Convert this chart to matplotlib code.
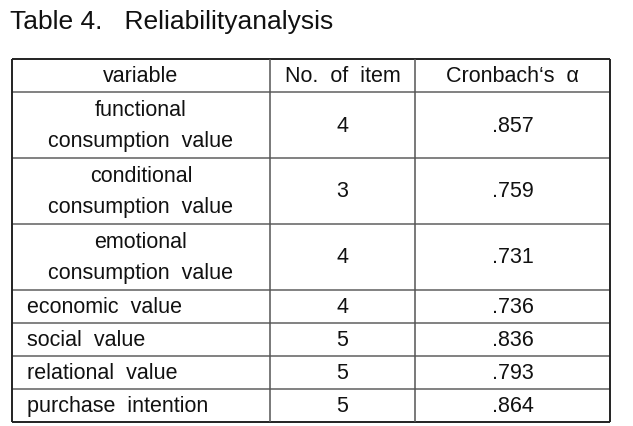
import matplotlib
matplotlib.use("Agg")
import matplotlib.pyplot as plt
from matplotlib import font_manager

# data
judul = "Table 4.   Reliabilityanalysis"
header = ["variable", "No.  of  item", "Cronbach\u2018s  \u03b1"]
variabel = [
    "functional\nconsumption  value",
    "conditional\nconsumption  value",
    "emotional\nconsumption  value",
    "economic  value",
    "social  value",
    "relational  value",
    "purchase  intention",
]
jumlah_item = [4, 3, 4, 4, 5, 5, 5]
alpha = [".857", ".759", ".731", ".736", ".836", ".793", ".864"]

# pilih font yang agak sempit kalau ada
nama_font = [f.name for f in font_manager.fontManager.ttflist]
font = "Liberation Sans Narrow" if "Liberation Sans Narrow" in nama_font else "Liberation Sans"
plt.rcParams['font.family'] = [font, 'DejaVu Sans']

W, H = 633, 427
fig = plt.figure(figsize=(W / 100, H / 100), dpi=100)
ax = fig.add_axes([0, 0, 1, 1])
ax.set_xlim(0, W)
ax.set_ylim(H, 0)
ax.axis("off")

# tata letak (piksel)
kiri, kanan = 12, 610
kolom = [kiri, 270, 415, kanan]
atas = 60
tinggi_baris = 33
tinggi = [tinggi_baris] + [tinggi_baris * (2 if "\n" in v else 1) for v in variabel]
batas = [atas]
for t in tinggi:
    batas.append(batas[-1] + t)

ukuran = 15.5
ax.text(kiri - 2, 22, judul, fontsize=19, va="center", ha="left", color="#111")

# garis
for i, y in enumerate(batas):
    luar = i == 0 or i == len(batas) - 1
    ax.plot([kiri, kanan], [y, y], color="#222" if luar else "#777",
            lw=1.4 if luar else 1.3, solid_capstyle="butt")
for j, x in enumerate(kolom):
    luar = j == 0 or j == len(kolom) - 1
    ax.plot([x, x], [batas[0], batas[-1]], color="#222" if luar else "#555",
            lw=1.4 if luar else 1.1, solid_capstyle="butt")

# header
tengah = [(kolom[k] + kolom[k + 1]) / 2 for k in range(3)]
yc = (batas[0] + batas[1]) / 2
for k, h in enumerate(header):
    ax.text(tengah[k], yc, h, fontsize=ukuran, ha="center", va="center", color="#111")

# isi
for i, v in enumerate(variabel):
    yc = (batas[i + 1] + batas[i + 2]) / 2
    if "\n" in v:
        ax.text(tengah[0], yc, v, fontsize=ukuran, ha="center", va="center",
                linespacing=1.6, color="#111")
    else:
        ax.text(kiri + 15, yc, v, fontsize=ukuran, ha="left", va="center", color="#111")
    ax.text(tengah[1], yc, str(jumlah_item[i]), fontsize=ukuran, ha="center", va="center", color="#111")
    ax.text(tengah[2], yc, alpha[i], fontsize=ukuran, ha="center", va="center", color="#111")

fig.savefig("out.png", dpi=100)
